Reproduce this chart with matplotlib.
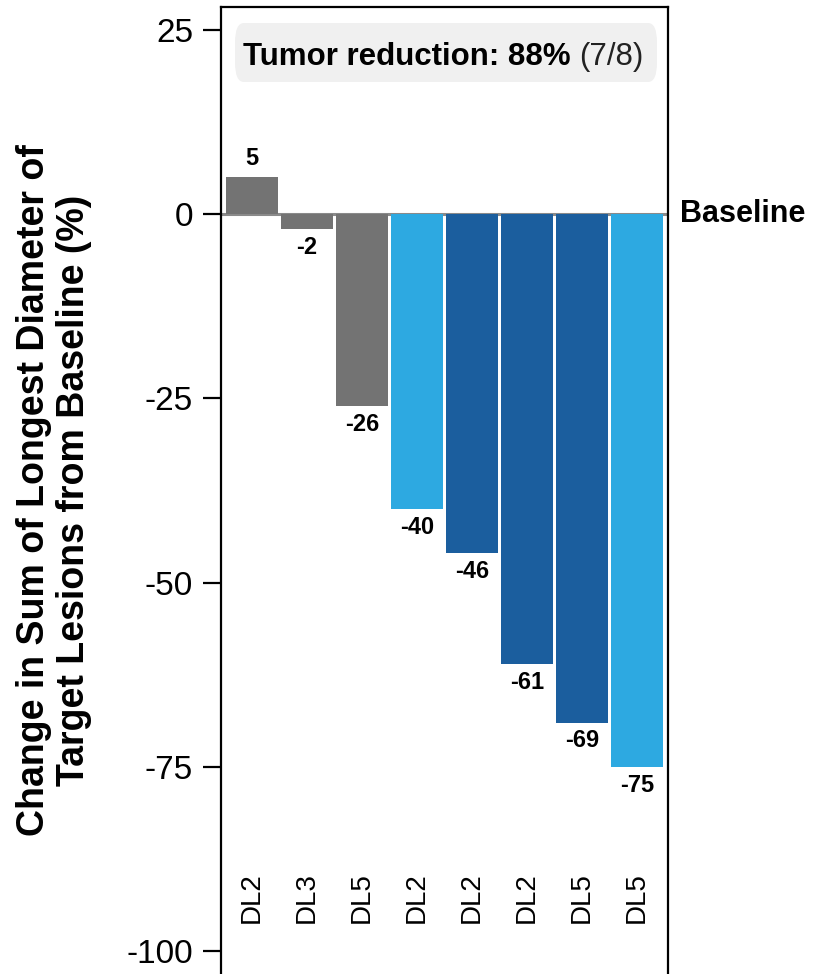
import matplotlib
matplotlib.use('Agg')
import matplotlib.pyplot as plt
from matplotlib.patches import FancyBboxPatch
import matplotlib.transforms as mtransforms
import numpy as np

plt.rcParams['font.family'] = ['Liberation Sans', 'DejaVu Sans']

# data
values = [5, -2, -26, -40, -46, -61, -69, -75]
dose_levels = ['DL2', 'DL3', 'DL5', 'DL2', 'DL2', 'DL2', 'DL5', 'DL5']
groups = ['gray', 'gray', 'gray', 'light', 'dark', 'dark', 'dark', 'light']
yticks = [25, 0, -25, -50, -75, -100]

palette = {'gray': '#737373', 'light': '#2DA9E1', 'dark': '#1B5E9E'}

fig = plt.figure(figsize=(8.14, 9.74), dpi=100)
ax = fig.add_axes([221/814, 0.0, 447/814, 967/974])

x = np.arange(len(values))
ax.axhline(0, color='#8a8a8a', lw=2.2, zorder=1)
ax.bar(x, values, width=0.95, color=[palette[g] for g in groups], zorder=2)

for xi, v in zip(x, values):
	if v >= 0:
		ax.annotate(str(v), (xi, v), xytext=(0, 5), textcoords='offset points',
			ha='center', va='bottom', fontsize=17, fontweight='bold')
	else:
		ax.annotate(str(v), (xi, v), xytext=(0, -5), textcoords='offset points',
			ha='center', va='top', fontsize=17, fontweight='bold')

for xi, lab in zip(x, dose_levels):
	ax.text(xi, -92.8, lab, rotation=90, ha='center', va='center', fontsize=20)

ax.set_xlim(-0.56, 7.56)
ax.set_ylim(-(974 - 214) / 7.37, 28.1)
ax.set_xticks([])
ax.set_yticks(yticks)
ax.set_yticklabels([str(t) for t in yticks], fontsize=24)
ax.tick_params(axis='y', length=13, width=1.6, pad=7, direction='out')
ax.spines['bottom'].set_visible(False)
for s in ['left', 'right', 'top']:
	ax.spines[s].set_linewidth(1.6)

ax.set_ylabel('Change in Sum of Longest Diameter of\nTarget Lesions from Baseline (%)',
	fontsize=27, fontweight='bold', labelpad=25, linespacing=1.15)

# baseline label outside the axes
trans = mtransforms.blended_transform_factory(ax.transAxes, ax.transData)
ax.text(1.027, 0, 'Baseline', transform=trans, ha='left', va='center',
	fontsize=22, fontweight='bold', clip_on=False)

# summary box
box = FancyBboxPatch((14/447, (974-82)/967), (657-235)/447, 59/967,
	boxstyle='round,pad=0,rounding_size=0.02', transform=ax.transAxes,
	facecolor='#F0F0F0', edgecolor='none', zorder=3)
ax.add_patch(box)
t1 = ax.text(22/447, (974-65)/967, 'Tumor reduction: 88% ', transform=ax.transAxes,
	ha='left', va='baseline', fontsize=22.5, fontweight='bold', zorder=4)
fig.canvas.draw()
bb = t1.get_window_extent()
x2 = ax.transAxes.inverted().transform((bb.x1, bb.y0))[0]
ax.text(x2, (974-65)/967, '(7/8)', transform=ax.transAxes,
	ha='left', va='baseline', fontsize=22.5, zorder=4, color='#222222')

fig.savefig('out.png', dpi=100)
